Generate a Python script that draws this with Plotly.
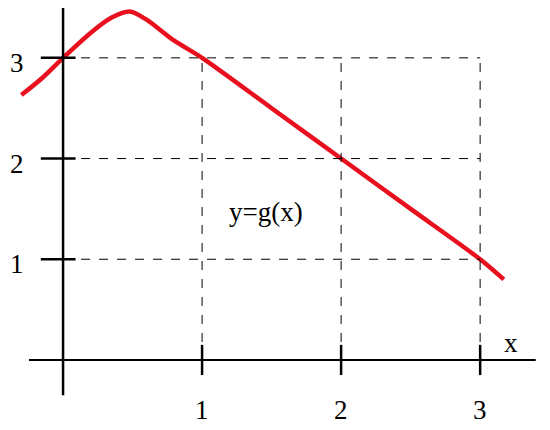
import plotly.graph_objects as go

# curve y = g(x)
curve_x = [-0.3, -0.15, 0.0, 0.2, 0.35, 0.48, 0.6, 0.8, 1.0, 1.5, 2.0, 2.5, 3.0, 3.17]
curve_y = [2.63, 2.8, 3.0, 3.25, 3.4, 3.46, 3.38, 3.17, 3.0, 2.5, 2.0, 1.5, 1.0, 0.8]
grid_vals = [1, 2, 3]
tick_labels = ["1", "2", "3"]

font = dict(family="Liberation Serif", size=27, color="black")

fig = go.Figure()
fig.add_trace(go.Scatter(x=curve_x, y=curve_y, mode="lines",
                         line=dict(color="#e8101e", width=4.5, shape="spline", smoothing=0.8),
                         hoverinfo="skip"))

shapes = []
# dashed grid
for v in grid_vals:
    shapes.append(dict(type="line", x0=0, x1=3, y0=v, y1=v,
                       line=dict(color="black", width=1, dash="dash")))
    shapes.append(dict(type="line", x0=v, x1=v, y0=0, y1=3,
                       line=dict(color="black", width=1, dash="dash")))
# axes
shapes.append(dict(type="line", x0=-0.245, x1=3.4, y0=0, y1=0, line=dict(color="black", width=2)))
shapes.append(dict(type="line", x0=0, x1=0, y0=-0.35, y1=3.55, line=dict(color="black", width=2.5)))
# ticks
for v in grid_vals:
    shapes.append(dict(type="line", x0=-0.16, x1=0.09, y0=v, y1=v, line=dict(color="black", width=2.5)))
    shapes.append(dict(type="line", x0=v, x1=v, y0=-0.15, y1=0.15, line=dict(color="black", width=2.5)))

annotations = []
for v, t in zip(grid_vals, tick_labels):
    annotations.append(dict(x=v, y=-0.5, text=t, showarrow=False, font=font))
    annotations.append(dict(x=-0.33, y=v - 0.05, text=t, showarrow=False, font=font))
annotations.append(dict(x=3.22, y=0.17, text="x", showarrow=False, font=font))
annotations.append(dict(x=1.46, y=1.47, text="y=g(x)", showarrow=False, font=font))

fig.update_layout(
    width=550, height=430, margin=dict(l=0, r=0, t=0, b=0),
    paper_bgcolor="white", plot_bgcolor="white", showlegend=False,
    xaxis=dict(range=[-0.396, 3.56], visible=False),
    yaxis=dict(range=[-0.775, 3.495], visible=False),
    shapes=shapes, annotations=annotations,
)
fig.write_html("out.html")
